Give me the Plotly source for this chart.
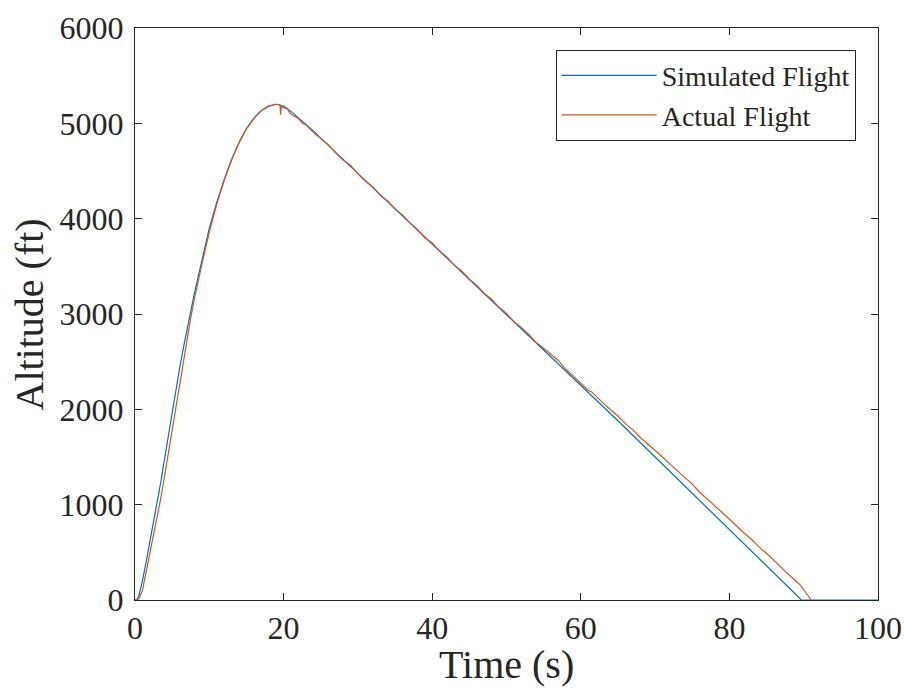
import plotly.graph_objects as go

# Simulated flight (s, ft)
sim_time = [0, 0.2, 0.5, 0.75, 1, 1.5, 2, 2.5, 3, 3.5, 4, 4.5, 5, 5.5, 6, 6.5, 7, 7.5, 8, 8.5, 9, 9.5, 10,
            11, 12, 13, 14, 15, 16, 17, 18, 19,
            20, 21, 22, 23, 24, 25, 30, 35, 40, 45, 50, 55, 60, 65, 70, 75, 80, 85, 89.7, 100]
sim_alt = [0, 0, 40, 110, 200, 400, 610, 815, 1010, 1250, 1490, 1730, 1970, 2210, 2430, 2640, 2840, 3040, 3220, 3390, 3560, 3730, 3900,
           4170, 4410, 4620, 4800, 4945, 5055, 5135, 5180, 5200,
           5180, 5125, 5060, 4990, 4920, 4845, 4475, 4105, 3740, 3370, 3000, 2630, 2255, 1880, 1500, 1120, 740, 360, 0, 0]

# Actual flight (s, ft)
act_time = [0, 0.5, 1, 1.5, 2, 2.5, 3, 3.5, 4, 4.5, 5, 5.5, 6, 6.5, 7, 7.5, 8, 8.5, 9, 9.5, 10,
            11, 12, 13, 14, 15, 16, 17, 18, 19,
            19.5, 19.6, 19.7, 20, 20.5, 21, 21.5, 22, 22.5, 23, 24, 25, 26, 27, 28, 29, 30,
            31, 32, 33, 34, 35, 36, 37, 38, 39, 40, 41, 42, 43, 44, 45, 46, 47, 48, 49, 50,
            51, 52, 53, 54, 55, 56, 57, 58, 59, 60, 61, 61.5, 62, 63, 64, 65, 66, 67, 68, 69, 70, 71, 72, 73, 74,
            75, 76, 77, 78, 79, 80, 81, 82, 83, 84, 85, 86, 87, 88, 89, 89.5, 90, 90.5, 91]
act_alt = [0, 10, 100, 290, 480, 680, 870, 1080, 1310, 1550, 1790, 2030, 2260, 2500, 2740, 2960, 3160, 3350, 3520, 3690, 3860,
           4150, 4400, 4615, 4798, 4942, 5052, 5133, 5180, 5200,
           5195, 5090, 5180, 5165, 5150, 5095, 5075, 5050, 5000, 4985, 4905, 4840, 4775, 4690, 4615, 4560, 4470,
           4395, 4335, 4245, 4185, 4100, 4040, 3955, 3890, 3800, 3745, 3660, 3595, 3510, 3450, 3365, 3300, 3215, 3155, 3070, 3005,
           2920, 2860, 2785, 2700, 2640, 2575, 2510, 2420, 2345, 2275, 2200, 2180, 2140, 2065, 1995, 1930, 1850, 1785, 1705, 1640, 1565, 1500, 1425, 1355, 1280,
           1215, 1130, 1065, 990, 920, 845, 780, 700, 635, 555, 490, 410, 340, 265, 195, 160, 110, 50, 0]

x_ticks = [0, 20, 40, 60, 80, 100]
y_ticks = [0, 1000, 2000, 3000, 4000, 5000, 6000]

ink = "#262626"
font_name = "Liberation Serif"

fig = go.Figure()
fig.add_trace(go.Scatter(x=sim_time, y=sim_alt, mode="lines", name="Simulated Flight",
                         line=dict(color="#0072BD", width=1.2)))
fig.add_trace(go.Scatter(x=act_time, y=act_alt, mode="lines", name="Actual Flight",
                         line=dict(color="#D95319", width=1.2)))

axis_common = dict(showline=True, linecolor=ink, linewidth=1, mirror="ticks",
                   ticks="inside", ticklen=7, tickcolor=ink, tickwidth=1,
                   showgrid=False, zeroline=False, automargin=False,
                   tickfont=dict(family=font_name, size=32, color=ink))

fig.update_xaxes(range=[0, 100], tickvals=x_ticks, **axis_common)
fig.update_yaxes(range=[0, 6000], tickvals=y_ticks, ticklabelstandoff=4, **axis_common)

title_font = dict(family=font_name, size=40, color=ink)
fig.add_annotation(text="Time (s)", xref="paper", yref="paper", x=0.5, y=-0.112,
                   xanchor="center", yanchor="middle", showarrow=False, font=title_font)
fig.add_annotation(text="Altitude (ft)", xref="paper", yref="paper", x=-0.142, y=0.5,
                   xanchor="center", yanchor="middle", textangle=-90, showarrow=False, font=title_font)

fig.update_layout(
    width=904, height=688,
    margin=dict(l=135, r=26, t=28, b=88),
    paper_bgcolor="white", plot_bgcolor="white",
    font=dict(family=font_name, color=ink),
    legend=dict(x=0.97, y=0.962, xanchor="right", yanchor="top",
                bordercolor=ink, borderwidth=1, bgcolor="white",
                font=dict(family=font_name, size=28, color=ink),
                itemwidth=95, tracegroupgap=0),
    showlegend=True,
)

fig.write_html("out.html", config={"displayModeBar": False},
               post_script="document.body.style.margin='0px';")
